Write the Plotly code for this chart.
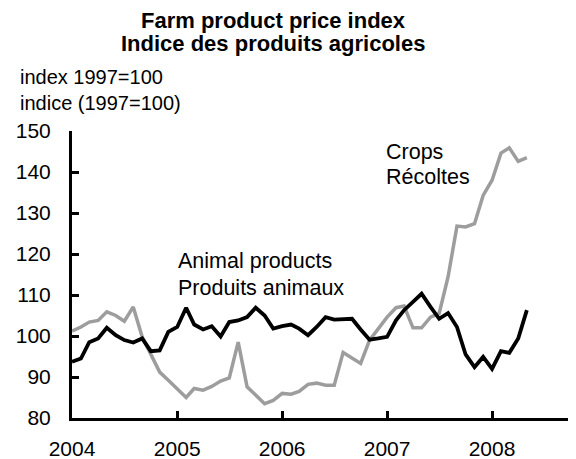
import pandas as pd
import plotly.graph_objects as go

# Monthly data, Jan 2004 - May 2008
months = pd.date_range("2004-01-01", periods=53, freq="MS")

animal_products = [
    93.7, 94.5, 98.5, 99.4, 102.0, 100.2, 99.0, 98.4, 99.4, 96.3, 96.5, 101.0,
    102.2, 106.9, 102.8, 101.6, 102.4, 99.9, 103.4, 103.8, 104.6, 106.9, 105.0, 101.8,
    102.4, 102.8, 101.8, 100.2, 102.2, 104.6, 104.0, 104.0, 104.2, 101.6, 99.1, 99.4,
    99.8, 103.8, 106.3, 108.3, 110.3, 107.1, 104.2, 105.6, 102.2, 95.5, 92.4, 94.9,
    92.0, 96.3, 95.9, 99.4, 106.3,
]

crops = [
    101.2, 102.2, 103.4, 103.8, 105.9, 105.0, 103.6, 107.1, 99.8, 95.7, 91.2, 89.2,
    87.2, 85.0, 87.2, 86.8, 87.7, 89.0, 89.8, 98.5, 87.6, 85.5, 83.5, 84.3,
    86.0, 85.8, 86.5, 88.2, 88.5, 88.0, 88.0, 96.0, 94.5, 93.3, 99.0, 101.8,
    104.6, 106.9, 107.3, 102.0, 102.0, 104.6, 105.5, 114.4, 126.8, 126.6, 127.4, 134.3,
    138.0, 144.6, 145.9, 142.6, 143.5,
]

year_ticks = ["2004-01-01", "2005-01-01", "2006-01-01", "2007-01-01", "2008-01-01"]
year_labels = ["2004", "2005", "2006", "2007", "2008"]
y_ticks = [80, 90, 100, 110, 120, 130, 140, 150]

title_lines = ["Farm product price index", "Indice des produits agricoles"]
ytitle_lines = ["index 1997=100", "indice (1997=100)"]
animal_label = ["Animal products", "Produits animaux"]
crops_label = ["Crops", "Récoltes"]

# The page body has an 8px margin, so the figure is 8px smaller than the window
W, H = 568, 451
L, R, T, B = 64, 0, 122.7, 41.3
PW, PH = W - L - R, H - T - B

def px(x):
    return (x - L) / PW

def py(y):
    return (H - B - y) / PH

FONT = "Liberation Sans, Arial, sans-serif"

fig = go.Figure()
fig.add_trace(go.Scatter(x=months, y=crops, mode="lines",
                         line=dict(color="#9d9d9d", width=3.5), name="Crops"))
fig.add_trace(go.Scatter(x=months, y=animal_products, mode="lines",
                         line=dict(color="#000000", width=3.8), name="Animal products"))

anns = []
def add(text, x, y, size, bold=False, xanchor="left"):
    anns.append(dict(text=f"<b>{text}</b>" if bold else text, x=px(x), y=py(y),
                     xref="paper", yref="paper", xanchor=xanchor, yanchor="middle",
                     showarrow=False, borderpad=0,
                     font=dict(family=FONT, size=size, color="black")))

add(title_lines[0], 265, 12, 22, bold=True, xanchor="center")
add(title_lines[1], 265, 35.5, 22, bold=True, xanchor="center")
add(ytitle_lines[0], 11, 68.5, 20)
add(ytitle_lines[1], 11, 95, 20)
add(animal_label[0], 168.7, 252.8, 21.5)
add(animal_label[1], 168.7, 279.5, 21.5)
add(crops_label[0], 377, 143.7, 21.5)
add(crops_label[1], 377, 169, 21.5)

fig.update_layout(
    width=W, height=H,
    margin=dict(l=L, r=R, t=T, b=B, pad=0),
    paper_bgcolor="white", plot_bgcolor="white",
    showlegend=False,
    annotations=anns,
    font=dict(family=FONT, color="black"),
    xaxis=dict(
        type="date",
        range=["2004-01-01", "2008-10-19"],
        tickvals=year_ticks, ticktext=year_labels,
        ticks="inside", ticklen=7, tickwidth=2.5, tickcolor="black",
        showline=True, linewidth=3, linecolor="black",
        showgrid=False, zeroline=False,
        tickfont=dict(family=FONT, size=21, color="black"),
        ticklabelstandoff=10,
    ),
    yaxis=dict(
        range=[80, 150],
        tickvals=y_ticks,
        ticks="inside", ticklen=7, tickwidth=2.5, tickcolor="black",
        showline=True, linewidth=3, linecolor="black",
        showgrid=False, zeroline=False,
        tickfont=dict(family=FONT, size=21, color="black"),
        ticklabelstandoff=14,
    ),
)

fig.write_html("out.html")
